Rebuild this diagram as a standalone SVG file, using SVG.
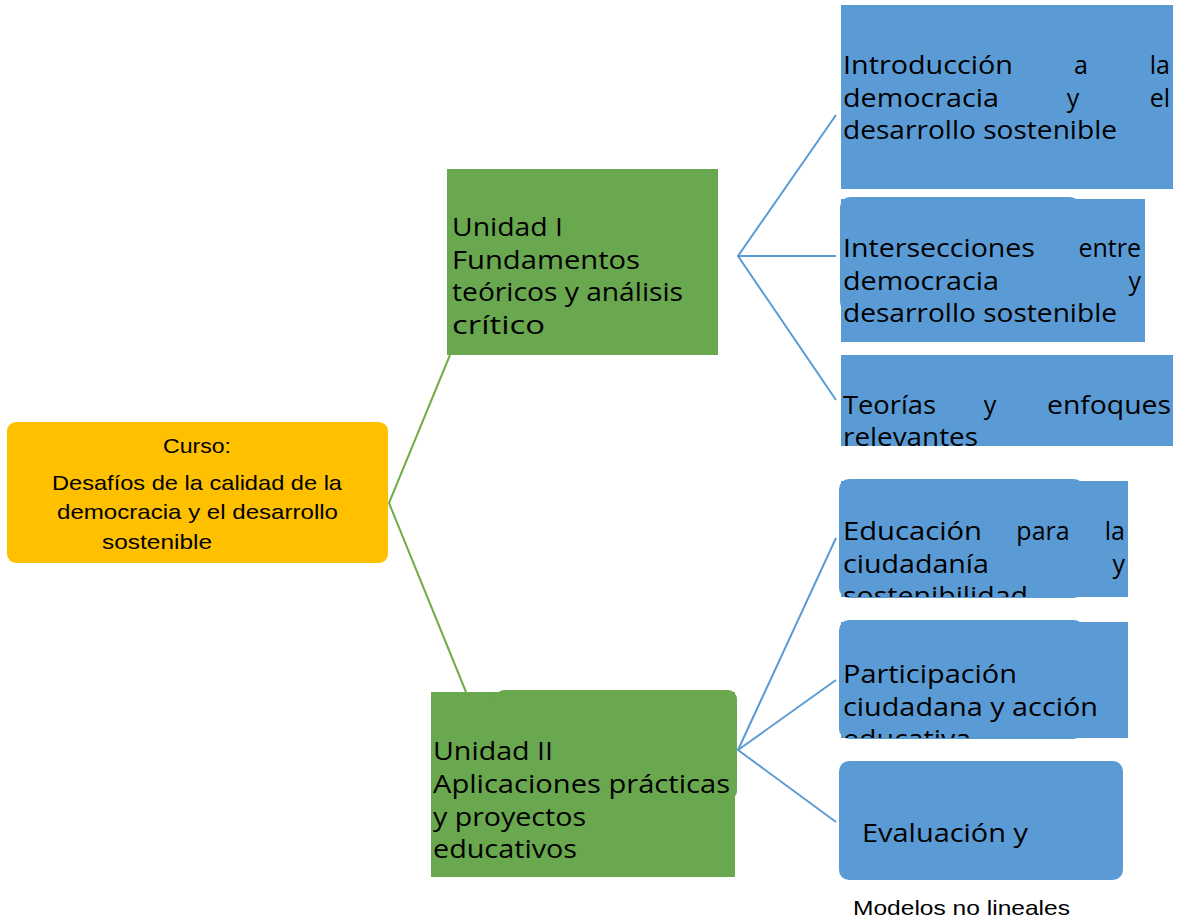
<svg xmlns="http://www.w3.org/2000/svg" width="1189" height="923" viewBox="0 0 1189 923">
<style>
.blue{fill:#5B9BD5}
.green{fill:#6AA84F}
.mt{font-family:"Open Sans","DejaVu Sans",sans-serif;font-size:25px;fill:#000}
.mu{font-family:"Open Sans","DejaVu Sans",sans-serif;font-size:26px;fill:#000}
.cal{font-family:"Liberation Sans",Arial,sans-serif;font-size:21px;fill:#000}
.e{text-anchor:end}
.m{text-anchor:middle}
</style>
<defs>
<clipPath id="c3"><rect x="841" y="355" width="332" height="91"/></clipPath>
<clipPath id="c4"><rect x="839" y="480" width="289" height="117"/></clipPath>
<clipPath id="c5"><rect x="839" y="620" width="289" height="118"/></clipPath>
</defs>
<g id="connectors" fill="none">
<g stroke="#70AD47" stroke-width="2">
<polyline points="450,355 389,503 466,692"/>
</g>
<g stroke="#5B9BD5" stroke-width="2">
<polyline points="836,115 738,256 836,400"/>
<line x1="738" y1="256" x2="836" y2="256"/>
<polyline points="836,538 738,750 836,822"/>
<line x1="738" y1="750" x2="836" y2="680"/>
</g>
</g>
<g id="root">
<rect x="7" y="422" width="381" height="141" rx="9" fill="#FFC000"/>
<text class="cal" x="163" y="453" textLength="68" lengthAdjust="spacingAndGlyphs">Curso:</text>
<text class="cal" x="52" y="490" textLength="290" lengthAdjust="spacingAndGlyphs">Desafíos de la calidad de la</text>
<text class="cal" x="57" y="519" textLength="281" lengthAdjust="spacingAndGlyphs">democracia y el desarrollo</text>
<text class="cal" x="102" y="549" textLength="110" lengthAdjust="spacingAndGlyphs">sostenible</text>
</g>
<g id="unit1">
<rect class="green" x="447" y="169" width="271" height="186"/>
<text class="mu" x="452" y="236" textLength="111" lengthAdjust="spacingAndGlyphs">Unidad I</text>
<text class="mu" x="452" y="269" textLength="188" lengthAdjust="spacingAndGlyphs">Fundamentos</text>
<text class="mu" x="452" y="301" textLength="231" lengthAdjust="spacingAndGlyphs">teóricos y análisis</text>
<text class="mu" x="452" y="334" textLength="93" lengthAdjust="spacingAndGlyphs">crítico</text>
</g>
<g id="unit2">
<rect class="green" x="431" y="692" width="304" height="185"/>
<rect class="green" x="495" y="690" width="242" height="110" rx="9"/>
<text class="mu" x="433" y="760" textLength="120" lengthAdjust="spacingAndGlyphs">Unidad II</text>
<text class="mu" x="433" y="793" textLength="297" lengthAdjust="spacingAndGlyphs">Aplicaciones prácticas</text>
<text class="mu" x="433" y="826" textLength="153" lengthAdjust="spacingAndGlyphs">y proyectos</text>
<text class="mu" x="433" y="858" textLength="144" lengthAdjust="spacingAndGlyphs">educativos</text>
</g>
<g id="b1">
<rect class="blue" x="841" y="5" width="332" height="184"/>
<text class="mt" x="843" y="74" textLength="170" lengthAdjust="spacingAndGlyphs">Introducción</text>
<text class="mt m" x="1081" y="74">a</text>
<text class="mt e" x="1170" y="74">la</text>
<text class="mt" x="843" y="107" textLength="156" lengthAdjust="spacingAndGlyphs">democracia</text>
<text class="mt m" x="1073" y="107">y</text>
<text class="mt e" x="1170" y="107">el</text>
<text class="mt" x="843" y="139" textLength="274" lengthAdjust="spacingAndGlyphs">desarrollo sostenible</text>
</g>
<g id="b2">
<rect class="blue" x="840" y="197" width="240" height="115" rx="10"/>
<rect class="blue" x="841" y="199" width="304" height="143"/>
<text class="mt" x="843" y="257" textLength="192" lengthAdjust="spacingAndGlyphs">Intersecciones</text>
<text class="mt e" x="1141" y="257">entre</text>
<text class="mt" x="843" y="290" textLength="156" lengthAdjust="spacingAndGlyphs">democracia</text>
<text class="mt e" x="1141" y="290">y</text>
<text class="mt" x="843" y="322" textLength="274" lengthAdjust="spacingAndGlyphs">desarrollo sostenible</text>
</g>
<g id="b3">
<rect class="blue" x="841" y="355" width="332" height="91"/>
<g clip-path="url(#c3)">
<text class="mt" x="843" y="414" textLength="93" lengthAdjust="spacingAndGlyphs">Teorías</text>
<text class="mt m" x="990" y="414">y</text>
<text class="mt" x="1047" y="414" textLength="124" lengthAdjust="spacingAndGlyphs">enfoques</text>
<text class="mt" x="843" y="446" textLength="135" lengthAdjust="spacingAndGlyphs">relevantes</text>
</g>
</g>
<g id="b4">
<rect class="blue" x="839" y="479" width="245" height="119" rx="10"/>
<rect class="blue" x="841" y="481" width="287" height="116"/>
<g clip-path="url(#c4)">
<text class="mt" x="843" y="540" textLength="139" lengthAdjust="spacingAndGlyphs">Educación</text>
<text class="mt m" x="1043" y="540">para</text>
<text class="mt e" x="1125" y="540">la</text>
<text class="mt" x="843" y="573" textLength="146" lengthAdjust="spacingAndGlyphs">ciudadanía</text>
<text class="mt e" x="1125" y="573">y</text>
<text class="mt" x="843" y="605" textLength="185" lengthAdjust="spacingAndGlyphs">sostenibilidad</text>
</g>
</g>
<g id="b5">
<rect class="blue" x="839" y="620" width="245" height="119" rx="10"/>
<rect class="blue" x="841" y="622" width="287" height="116"/>
<g clip-path="url(#c5)">
<text class="mt" x="843" y="683" textLength="174" lengthAdjust="spacingAndGlyphs">Participación</text>
<text class="mt" x="843" y="716" textLength="255" lengthAdjust="spacingAndGlyphs">ciudadana y acción</text>
<text class="mt" x="843" y="748" textLength="128" lengthAdjust="spacingAndGlyphs">educativa</text>
</g>
</g>
<g id="b6">
<rect class="blue" x="839" y="761" width="284" height="119" rx="10"/>
<text class="mt" x="862" y="842" textLength="166" lengthAdjust="spacingAndGlyphs">Evaluación y</text>
</g>
<text id="note" class="cal" x="853" y="915" textLength="217" lengthAdjust="spacingAndGlyphs">Modelos no lineales</text>
</svg>
